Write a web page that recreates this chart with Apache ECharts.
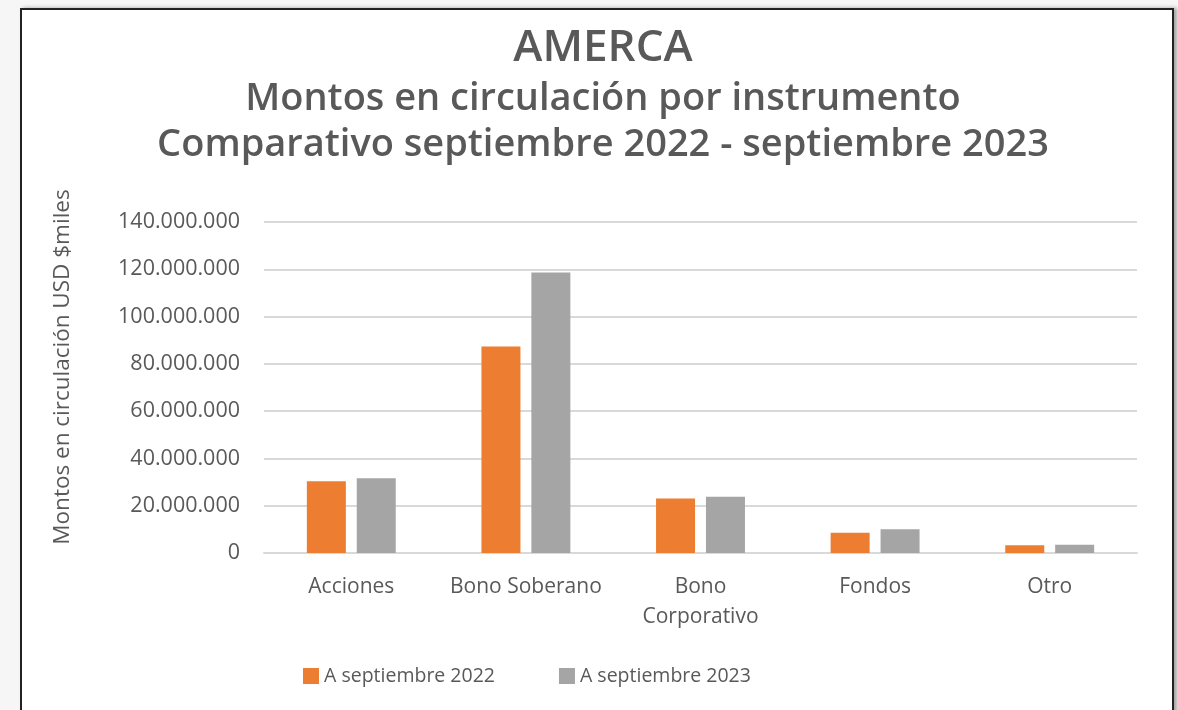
<!DOCTYPE html>
<html>
<head>
    <meta charset="utf-8">
    <title>AMERCA</title>
    <script src="https://cdn.jsdelivr.net/npm/echarts@6/dist/echarts.min.js"></script>
    <style>
        body { margin: 0; background: #f6f6f6; }
        #frame {
            position: absolute; left: 20px; top: 8px; width: 1150px; height: 720px;
            background: #fff; border: 2px solid #222;
            box-shadow: 3px 0 4px rgba(0,0,0,0.35);
        }
        #main { position: absolute; left: 0; top: 0; width: 1178px; height: 710px; }
    </style>
</head>
<body>
    <div id="frame"></div>
    <div id="main"></div>
    <script type="text/javascript">
        // data
        var categories = ['Acciones', 'Bono Soberano', 'Bono\nCorporativo', 'Fondos', 'Otro'];
        var sep2022 = [30300000, 87300000, 23100000, 8600000, 3300000];
        var sep2023 = [31600000, 118600000, 23800000, 10000000, 3500000];
        var seriesNames = ['A septiembre 2022', 'A septiembre 2023'];
        var titleLines = ['AMERCA', 'Montos en circulación por instrumento', 'Comparativo septiembre 2022 - septiembre 2023'];
        var yName = 'Montos en circulación USD $miles';

        var textColor = '#595959';
        var font = '"Open Sans", sans-serif';

        function fmt(v) {
            return String(v).replace(/\B(?=(\d{3})+(?!\d))/g, '.');
        }

        var myChart = echarts.init(document.getElementById('main'), null, { renderer: 'canvas' });

        var option = {
            backgroundColor: 'transparent',
            textStyle: { fontFamily: font },
            title: [
                { text: titleLines[0], left: 598, textAlign: 'center', top: 21,
                  textStyle: { color: textColor, fontSize: 44, fontWeight: 600, fontFamily: font } },
                { text: titleLines[1], left: 598, textAlign: 'center', top: 75,
                  textStyle: { color: textColor, fontSize: 38, fontWeight: 600, fontFamily: font } },
                { text: titleLines[2], left: 598, textAlign: 'center', top: 121,
                  textStyle: { color: textColor, fontSize: 38, fontWeight: 600, fontFamily: font } }
            ],
            legend: {
                left: 298, top: 661,
                itemWidth: 16, itemHeight: 16, itemGap: 64,
                icon: 'rect',
                textStyle: { color: textColor, fontSize: 19.5, fontFamily: font },
                data: seriesNames
            },
            grid: { left: 264, right: 41, top: 222, bottom: 157, containLabel: false },
            xAxis: {
                type: 'category',
                data: categories,
                axisLine: { lineStyle: { color: '#d9d9d9', width: 2 } },
                axisTick: { show: false },
                axisLabel: { color: textColor, fontSize: 21, margin: 19, lineHeight: 30, fontFamily: font, interval: 0 }
            },
            yAxis: {
                type: 'value',
                min: 0, max: 140000000, interval: 20000000,
                axisLine: { show: false },
                axisTick: { show: false },
                splitLine: { lineStyle: { color: '#d9d9d9', width: 2 } },
                axisLabel: { color: textColor, fontSize: 21.5, margin: 24, fontFamily: font, formatter: fmt }
            },
            graphic: [
                { type: 'text', x: 63, y: 367, rotation: Math.PI / 2,
                  style: { text: yName, fill: textColor, fontSize: 22.5, fontFamily: font,
                           textAlign: 'center', textVerticalAlign: 'middle' } }
            ],
            series: [
                { name: seriesNames[0], type: 'bar', data: sep2022, barWidth: 39, barGap: '28%',
                  itemStyle: { color: '#ed7d31' } },
                { name: seriesNames[1], type: 'bar', data: sep2023, barWidth: 39,
                  itemStyle: { color: '#a5a5a5' } }
            ]
        };
        myChart.setOption(option);
    </script>
</body>
</html>
